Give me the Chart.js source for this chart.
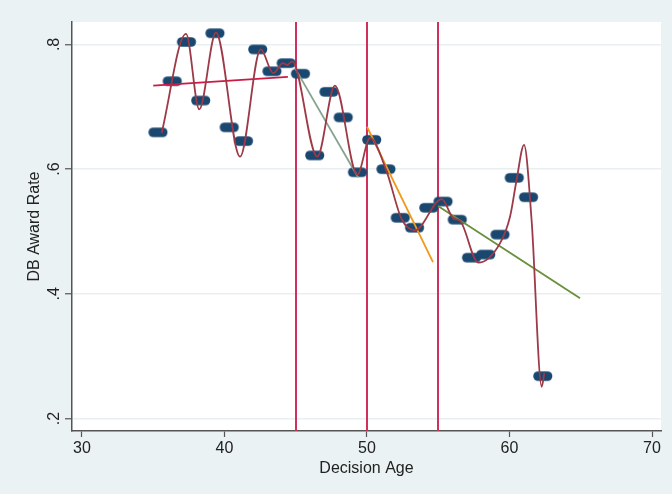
<!DOCTYPE html>
<html>
<head>
<meta charset="utf-8">
<script src="https://cdn.jsdelivr.net/npm/chart.js@4.4.1/dist/chart.umd.min.js"></script>
<style>
    html, body { margin: 0; padding: 0; background: #eaf2f3; }
    #wrap { width: 672px; height: 494px; }
</style>
</head>
<body>
<div id="wrap"><canvas id="chart" width="672" height="494"></canvas></div>
<script>
// DB award rate by decision age

const ages = [35, 36, 37, 38, 39, 40, 41, 42, 43, 44, 45, 46, 47, 48,
              49, 50, 51, 52, 53, 54, 55, 56, 57, 58, 59, 60, 61, 62];
const awardRate = [0.659, 0.741, 0.804, 0.710, 0.818, 0.667, 0.645, 0.792, 0.757, 0.770,
                   0.753, 0.622, 0.724, 0.683, 0.595, 0.647, 0.600, 0.522, 0.506, 0.538,
                   0.548, 0.519, 0.458, 0.463, 0.495, 0.586, 0.555, 0.268];

// smoothed curve
const curveAge = [35.59, 37.30, 38.23, 39.40, 41.09, 42.54, 43.42, 44.10, 44.40, 44.75,
                  46.51, 47.75, 49.32, 50.21, 51.38, 52.43, 53.37, 55.24, 56.06, 56.53,
                  57.81, 59.33, 60.04, 60.50, 61.02, 61.55, 62.26, 62.44];
const curveRate = [0.658, 0.817, 0.696, 0.819, 0.620, 0.792, 0.754, 0.770, 0.767, 0.773,
                   0.620, 0.734, 0.591, 0.650, 0.596, 0.520, 0.502, 0.552, 0.521, 0.517,
                   0.450, 0.481, 0.524, 0.583, 0.639, 0.518, 0.251, 0.273];

// linear fits by age band
const fitAgeA = [35, 44.45];
const fitRateA = [0.734, 0.748];
const fitAgeB = [44.95, 49.37];
const fitRateB = [0.762, 0.587];
const fitAgeC = [50, 54.63];
const fitRateC = [0.668, 0.451];
const fitAgeD = [54.98, 64.95];
const fitRateD = [0.541, 0.393];

const cutoffs = [45, 50, 55];
const xTicks = [30, 40, 50, 60, 70];
const yTicks = [0.2, 0.4, 0.6, 0.8];
const yTickLabels = ['.2', '.4', '.6', '.8'];

const FONT = "'Liberation Sans', Arial, sans-serif";
const TEXT = '#222222';
const AXIS = '#555555';

function toPoints(xs, ys) {
    return xs.map((x, i) => ({ x: x, y: ys[i] }));
}

// pill shaped marker, left end sits on the point
function makePill() {
    const r = 4.8, span = 9.5;
    const c = document.createElement('canvas');
    c.width = 32;
    c.height = 12;
    const g = c.getContext('2d');
    const cx = c.width / 2, cy = c.height / 2;
    g.fillStyle = '#1a476f';
    g.beginPath();
    g.arc(cx, cy, r, Math.PI / 2, Math.PI * 1.5);
    g.arc(cx + span, cy, r, -Math.PI / 2, Math.PI / 2);
    g.closePath();
    g.fill();
    return c;
}

const backdrop = {
    id: 'backdrop',
    beforeDraw(chart) {
        const { ctx, chartArea: a } = chart;
        ctx.save();
        ctx.fillStyle = '#eaf2f3';
        ctx.fillRect(0, 0, chart.width, chart.height);
        ctx.fillStyle = '#ffffff';
        ctx.fillRect(a.left, a.top, a.right - a.left, a.bottom - a.top);
        ctx.restore();
    },
    beforeDatasetsDraw(chart) {
        const { ctx, chartArea: a, scales: { x } } = chart;
        ctx.save();
        ctx.strokeStyle = '#d0305c';
        ctx.lineWidth = 2;
        cutoffs.forEach(c => {
            const px = Math.round(x.getPixelForValue(c));
            ctx.beginPath();
            ctx.moveTo(px, a.top);
            ctx.lineTo(px, a.bottom);
            ctx.stroke();
        });
        ctx.restore();
    },
    afterDraw(chart) {
        // y tick labels, turned like the original
        const { ctx, scales: { y } } = chart;
        ctx.save();
        ctx.font = '16px ' + FONT;
        ctx.fillStyle = TEXT;
        ctx.textAlign = 'center';
        ctx.textBaseline = 'middle';
        yTicks.forEach((v, i) => {
            ctx.save();
            ctx.translate(55, y.getPixelForValue(v));
            ctx.rotate(-Math.PI / 2);
            ctx.fillText(yTickLabels[i], 0, 0);
            ctx.restore();
        });
        ctx.restore();
    }
};

function fitLine(xs, ys, color) {
    return {
        data: toPoints(xs, ys),
        showLine: true,
        borderColor: color,
        borderWidth: 1.8,
        pointRadius: 0,
        tension: 0
    };
}

new Chart(document.getElementById('chart'), {
    type: 'scatter',
    data: {
        datasets: [
            {
                data: toPoints(curveAge, curveRate),
                showLine: true,
                borderColor: '#9c3a48',
                borderWidth: 1.8,
                pointRadius: 0,
                cubicInterpolationMode: 'monotone'
            },
            fitLine(fitAgeA, fitRateA, '#cc1a44'),
            fitLine(fitAgeB, fitRateB, '#86a38f'),
            fitLine(fitAgeC, fitRateC, '#f09a1a'),
            fitLine(fitAgeD, fitRateD, '#6a8f3a'),
            {
                data: toPoints(ages, awardRate),
                pointStyle: makePill(),
                pointRadius: 5,
                showLine: false
            }
        ]
    },
    options: {
        responsive: false,
        animation: false,
        devicePixelRatio: 1,
        layout: { padding: { top: 22, right: 11, left: 0, bottom: 0 } },
        plugins: {
            legend: { display: false },
            tooltip: { enabled: false }
        },
        scales: {
            x: {
                type: 'linear',
                min: 29.3,
                max: 70.63,
                afterBuildTicks: s => { s.ticks = xTicks.map(v => ({ value: v })); },
                afterFit: s => { s.height = 63; },
                ticks: {
                    font: { family: FONT, size: 16 },
                    color: TEXT,
                    padding: 2,
                    maxRotation: 0
                },
                grid: {
                    drawOnChartArea: false,
                    tickLength: 6,
                    tickColor: AXIS,
                    tickWidth: 1.2
                },
                border: { color: AXIS, width: 1.5 },
                title: {
                    display: true,
                    text: 'Decision Age',
                    font: { family: FONT, size: 16 },
                    color: TEXT,
                    padding: { top: 0, bottom: 16 }
                }
            },
            y: {
                type: 'linear',
                min: 0.18,
                max: 0.836,
                afterBuildTicks: s => { s.ticks = yTicks.map(v => ({ value: v })); },
                afterFit: s => { s.width = 72; },
                ticks: { display: false },
                grid: {
                    color: '#e7eff1',
                    lineWidth: 1.5,
                    tickLength: 7,
                    tickColor: AXIS,
                    tickWidth: 1.2
                },
                border: { color: AXIS, width: 1.5 },
                title: {
                    display: true,
                    text: 'DB Award Rate',
                    font: { family: FONT, size: 16 },
                    color: TEXT,
                    padding: { top: 25, bottom: 0 }
                }
            }
        }
    },
    plugins: [backdrop]
});
</script>
</body>
</html>
